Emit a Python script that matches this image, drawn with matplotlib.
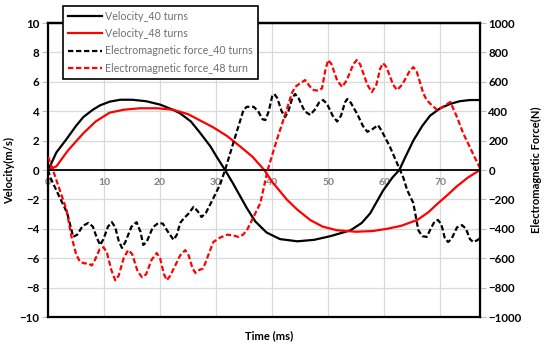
#Velocity and electromagnetic force of the two coil designs (40 and 48 turns)

import matplotlib.pyplot as plt

plt.rcParams['font.family'] = ['Lato', 'DejaVu Sans']

#Velocity, 40 turns (m/s)
v40_t = [0, 0.4, 1.5, 3.3, 5, 6.3, 8, 9.3, 11, 12.9, 15, 17.5, 20, 22.3, 23.6, 25.5, 27.1, 29,
         30.1, 31.6, 33, 35.5, 37, 39, 41.4, 44.5, 47.5, 50.4, 54, 56, 57.5, 59.8, 61.5, 62.7,
         63.8, 65.2, 66.8, 68.2, 70, 71.8, 73.5, 75.3, 77.1]
v40 = [0, 0.3, 1.2, 2.1, 3.0, 3.6, 4.1, 4.4, 4.65, 4.78, 4.78, 4.68, 4.45, 4.1, 3.85, 3.3, 2.55,
       1.6, 0.9, 0, -0.9, -2.6, -3.5, -4.25, -4.7, -4.85, -4.75, -4.5, -4.1, -3.6, -2.95, -1.4,
       -0.5, 0, 0.9, 2.0, 3.0, 3.7, 4.2, 4.5, 4.68, 4.76, 4.76]

#Velocity, 48 turns (m/s)
v48_t = [0, 1.5, 3.5, 6.3, 8.5, 11, 13.5, 16.4, 19.5, 22.3, 25, 27.5, 29.5, 32, 34.3, 36.5, 38.6,
         40, 42.6, 44.5, 46.8, 49, 51.6, 55, 58, 60.5, 63, 65.9, 67.8, 69.5, 71.3, 73, 75, 77.1]
v48 = [0, 0.25, 1.3, 2.5, 3.3, 3.9, 4.1, 4.2, 4.2, 4.1, 3.8, 3.3, 2.9, 2.3, 1.6, 0.9, 0, -0.8,
       -2.0, -2.7, -3.4, -3.85, -4.1, -4.2, -4.15, -4.0, -3.8, -3.4, -2.9, -2.3, -1.7, -1.1, -0.5, 0]

#Electromagnetic force, 40 turns (N)
f40_t = [0, 0.4, 2, 3.4, 4.5, 5.2, 6.2, 7.2, 8.0, 8.7, 9.3, 9.9, 10.7, 11.4, 12.0, 12.6, 13.2,
         13.8, 14.9, 15.8, 16.5, 17.0, 17.6, 18.7, 19.7, 20.5, 21.4, 22.4, 23.0, 23.6, 24.2, 25.0,
         26.0, 26.7, 27.4, 28.2, 29.0, 30.7, 31.6, 33, 34.9, 35.5, 36.7, 37.5, 38.3, 38.8, 39.4,
         40.0, 40.4, 40.9, 41.7, 42.3, 42.9, 43.6, 44.1, 44.7, 45.8, 46.8, 47.6, 48.4, 49.1, 49.8,
         50.8, 51.6, 52.3, 53.0, 53.4, 54.0, 55.2, 56.2, 57.0, 57.8, 58.9, 59.5, 61, 63.4, 64.1,
         65.2, 66.1, 66.8, 67.6, 68.3, 69.0, 69.6, 70.2, 70.8, 71.4, 72.0, 73.0, 73.9, 74.6, 75.3,
         75.9, 76.5, 77.1]
f40 = [0, -50, -180, -290, -455, -440, -380, -360, -385, -460, -510, -470, -385, -355, -390,
       -480, -530, -490, -385, -355, -420, -510, -490, -390, -360, -365, -420, -475, -440, -360,
       -330, -300, -250, -280, -320, -290, -230, -100, 0, 175, 410, 430, 430, 400, 345, 340, 400,
       500, 517, 490, 400, 360, 400, 490, 517, 490, 400, 375, 410, 460, 476, 450, 370, 330, 370,
       460, 483, 460, 380, 300, 260, 275, 305, 270, 160, -50, -136, -225, -410, -450, -455, -400,
       -350, -340, -370, -460, -490, -470, -390, -375, -400, -470, -490, -480, -465]

#Electromagnetic force, 48 turns (N)
f48_t = [0, 0.7, 1.5, 3.3, 4.2, 5.0, 5.7, 6.5, 7.2, 7.8, 8.4, 9.2, 9.9, 10.5, 11.3, 12.0, 12.6,
         13.5, 14.3, 15.0, 16.0, 16.8, 17.5, 18.5, 19.4, 20.0, 20.7, 21.2, 21.8, 23.6, 24.5, 25.1,
         25.8, 26.3, 27.0, 27.7, 28.6, 29.5, 30.7, 32, 33.0, 34, 34.8, 35.5, 37.9, 39.2, 40.8,
         42.6, 43.5, 44.1, 45.0, 45.9, 46.7, 47.4, 48.2, 48.9, 49.5, 50.0, 50.6, 51.6, 52.5, 53.3,
         54.5, 55.1, 55.7, 57.0, 57.8, 58.6, 59.3, 59.8, 60.4, 61.6, 62.3, 63.2, 64.5, 65.2, 65.8,
         67.0, 67.6, 68.5, 69.5, 70.5, 71.8, 73.0, 74.1, 77]
f48 = [90, 20, -70, -270, -455, -570, -625, -635, -635, -650, -610, -540, -525, -560, -680, -750,
       -720, -600, -545, -570, -690, -730, -710, -610, -565, -600, -710, -750, -720, -580, -545,
       -580, -670, -700, -680, -670, -580, -490, -460, -440, -445, -455, -440, -410, -225, 0, 200,
       410, 520, 565, 590, 612, 570, 544, 540, 555, 680, 748, 720, 610, 565, 610, 720, 748, 720,
       580, 530, 580, 690, 727, 700, 580, 544, 580, 670, 700, 670, 520, 476, 440, 408, 430, 463,
       360, 250, 20]

xticks = [0, 10, 20, 30, 40, 50, 60, 70]
vticks = list(range(-10, 11, 2))
fticks = list(range(-1000, 1001, 200))

fig = plt.figure(figsize=(5.5, 3.46), dpi=100)
ax = fig.add_axes([0.0873, 0.0838, 0.7854, 0.8497])
ax2 = ax.twinx()

lw = 1.6
dash = (2.4, 1.2)
l1, = ax.plot(v40_t, v40, color='black', lw=lw, label='Velocity_40 turns')
l2, = ax.plot(v48_t, v48, color='#ff0000', lw=lw, label='Velocity_48 turns')
l3, = ax2.plot(f40_t, f40, color='black', lw=lw, dashes=dash, label='Electromagnetic force_40 turns')
l4, = ax2.plot(f48_t, f48, color='#ff0000', lw=lw, dashes=dash, label='Electromagnetic force_48 turn')

ax.set_xlim(0, 77.1)
ax.set_ylim(-10, 10)
ax2.set_ylim(-1000, 1000)
ax.set_xticks(xticks)
ax.set_yticks(vticks)
ax2.set_yticks(fticks)

ax.grid(True, color='#d9d9d9', lw=0.9)
ax.set_axisbelow(True)

#x axis sits on the zero line, like the Excel original
ax.spines['bottom'].set_position(('data', 0))
ax.spines['bottom'].set_linewidth(1.3)
ax.axhline(-10, color='black', lw=1.6, clip_on=False)
for s in ['left', 'top']:
    ax.spines[s].set_linewidth(1.6)
ax2.spines['right'].set_linewidth(1.6)
ax2.spines['top'].set_linewidth(1.6)
for s in ['left', 'bottom']:
    ax2.spines[s].set_visible(False)

ax.tick_params(axis='x', length=0, pad=6, labelsize=7.5, labelcolor='#808080')
ax.tick_params(axis='y', length=4, color='#bfbfbf', pad=2, labelsize=8.3)
ax2.tick_params(axis='y', length=4, color='#bfbfbf', pad=2, labelsize=8.3)
for lab in ax.get_xticklabels():
    lab.set_fontweight('bold')
for lab in ax.get_yticklabels() + ax2.get_yticklabels():
    lab.set_fontweight('bold')

ax.set_ylabel('Velocity(m/s)', fontsize=8, fontweight='bold', labelpad=3)
ax2.set_ylabel('Electromagnetic Force(N)', fontsize=8, fontweight='bold', labelpad=7)
fig.text(0.49, 0.03, 'Time (ms)', fontsize=8, fontweight='bold', ha='center', va='center')

leg = ax2.legend(handles=[l1, l2, l3, l4], loc='upper left', bbox_to_anchor=(0.022, 1.077),
                 fontsize=7.7, frameon=True, fancybox=False, edgecolor='black',
                 handlelength=3.2, handletextpad=0.3, borderpad=0.45, labelspacing=0.6,
                 labelcolor='#707070', framealpha=1)
leg.get_frame().set_linewidth(1.2)
leg.set_zorder(10)

plt.savefig('out.png', dpi=100)
